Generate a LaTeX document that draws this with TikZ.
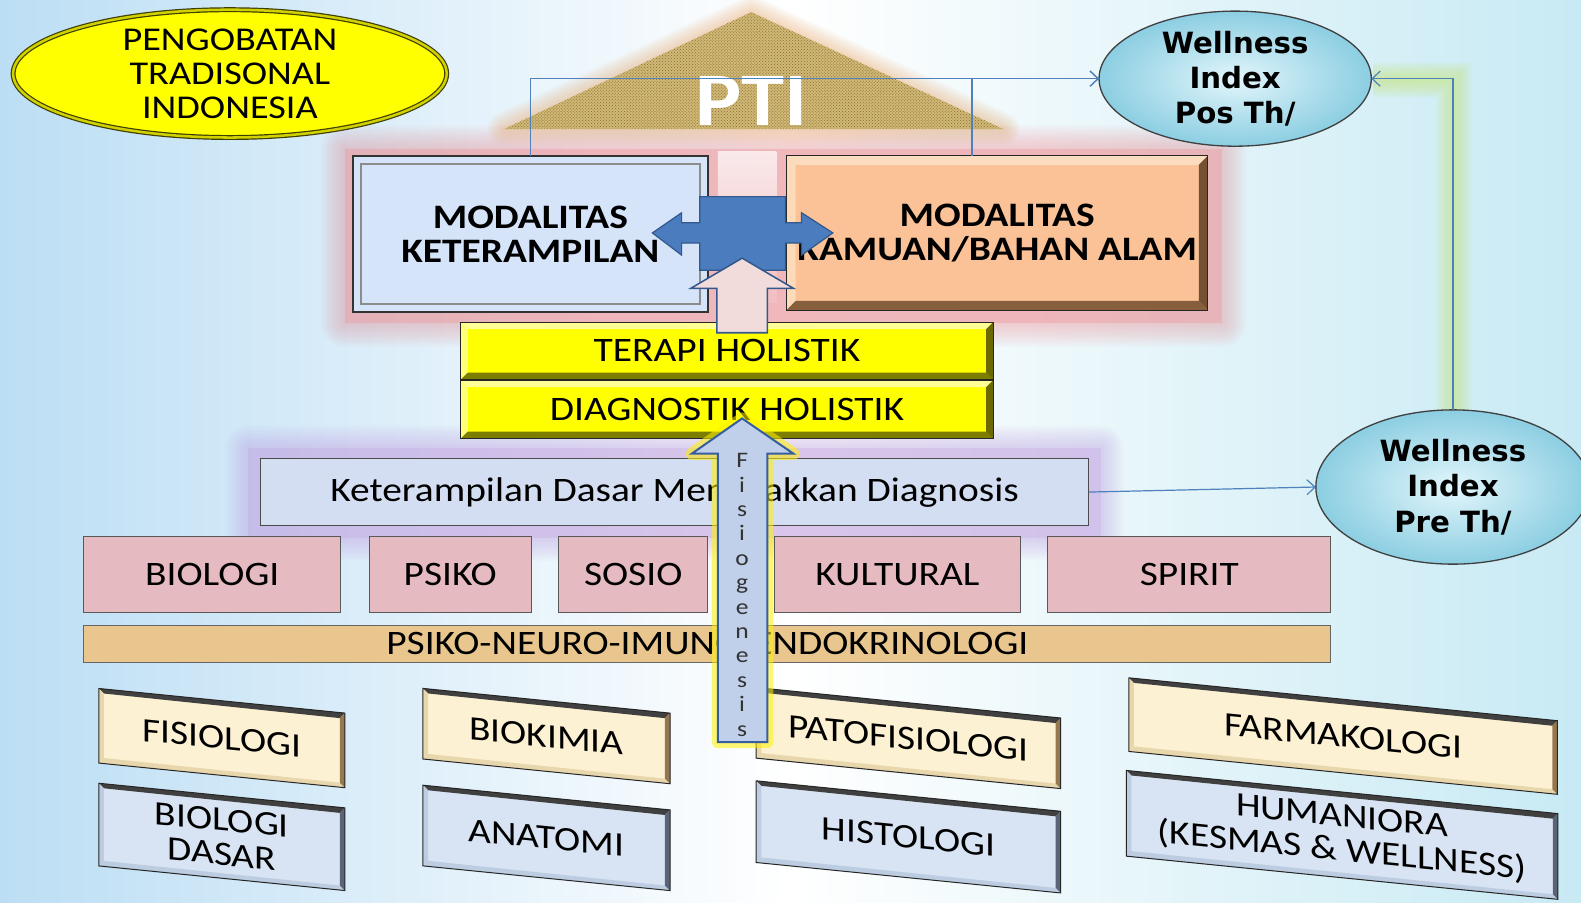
\documentclass[tikz,border=0pt]{standalone}
\usepackage{fontspec}
\setmainfont{Carlito}[FakeStretch=1.15]
\newfontfamily\wellfont{DejaVu Sans}
\usetikzlibrary{arrows.meta,shapes.geometric,patterns}
\definecolor{bgblue}{RGB}{188,222,244}
\definecolor{bgcyan}{RGB}{200,234,244}
\definecolor{connb}{RGB}{79,129,189}
\definecolor{crossb}{RGB}{74,124,190}
\definecolor{crossd}{RGB}{50,88,140}
\definecolor{pinkarr}{RGB}{242,220,219}
\definecolor{fisarr}{RGB}{192,207,234}
\definecolor{fisd}{RGB}{55,95,160}
\definecolor{ylw}{RGB}{255,255,0}
\definecolor{ylwlt}{RGB}{255,255,150}
\definecolor{olivd}{RGB}{125,125,0}
\definecolor{mkface}{RGB}{214,228,250}
\definecolor{peach}{RGB}{250,194,150}
\definecolor{peachlt}{RGB}{252,220,190}
\definecolor{peachdk}{RGB}{135,95,60}
\definecolor{kdface}{RGB}{212,222,242}
\definecolor{pinkb}{RGB}{229,186,192}
\definecolor{tanb}{RGB}{232,198,142}
\definecolor{cream}{RGB}{252,241,210}
\definecolor{creamdk}{RGB}{150,120,80}
\definecolor{creamlt}{RGB}{232,214,172}
\definecolor{lbface}{RGB}{216,228,243}
\definecolor{lbdk}{RGB}{90,100,120}
\definecolor{lblt}{RGB}{188,204,225}
\definecolor{roofc}{RGB}{208,184,118}
\definecolor{roofd}{RGB}{135,105,45}
\definecolor{wellin}{RGB}{226,246,251}
\definecolor{wellout}{RGB}{140,206,226}
\definecolor{glowpink}{RGB}{238,150,155}
\definecolor{glowpur}{RGB}{195,160,225}
\definecolor{glowgrn}{RGB}{195,232,100}
\definecolor{gloworg}{RGB}{232,165,100}
\newcommand\fsz[2]{\fontsize{#1}{#2}\selectfont}
\newcommand\bevelit[6]{%
  \fill[#2] (#1.north west) -- (#1.north east) -- ([xshift=-#6,yshift=-#6]#1.north east) -- ([xshift=#6,yshift=-#6]#1.north west) -- cycle;
  \fill[#3] (#1.north west) -- ([xshift=#6,yshift=-#6]#1.north west) -- ([xshift=#6,yshift=#6]#1.south west) -- (#1.south west) -- cycle;
  \fill[#4] (#1.south west) -- ([xshift=#6,yshift=#6]#1.south west) -- ([xshift=-#6,yshift=#6]#1.south east) -- (#1.south east) -- cycle;
  \fill[#5] (#1.south east) -- ([xshift=-#6,yshift=#6]#1.south east) -- ([xshift=-#6,yshift=-#6]#1.north east) -- (#1.north east) -- cycle;
  \draw[black!85, line width=1pt] (#1.north west) -- (#1.north east) -- (#1.south east) -- (#1.south west) -- cycle;
}
\begin{document}
\begin{tikzpicture}[x=1pt,y=-1pt,
  every node/.style={inner sep=0pt, outer sep=0pt},
  txt/.style={font=\fsz{34}{34}, align=center},
  conn/.style={draw=connb, line width=1.2pt},
  tipend/.style={-{Straight Barb[length=8pt,width=15pt,line width=1.2pt]}},
  pinkbox/.style={draw=black!65, line width=1pt, fill=pinkb, minimum width=#1, minimum height=75pt, txt},
  ylwbox/.style={fill=ylw, minimum width=528pt, minimum height=#1, txt},
  btop/.style={fill=cream, minimum width=#1, yslant=-0.1, transform shape, txt},
  bbot/.style={fill=lbface, minimum width=#1, yslant=-0.1, transform shape, txt},
  wellel/.style={ellipse, draw=black!75, line width=1.3pt, inner color=wellin, outer color=wellout, font=\wellfont\bfseries\fsz{29}{35}, align=center},
]
\useasboundingbox (0,0) rectangle (1568,895);
% background
\shade[left color=bgblue, right color=bgcyan, middle color=white] (0,0) rectangle (1568,895);

% glows
\foreach \e in {2,4,...,24}
  \fill[glowpink, opacity=0.045, rounded corners=\e] ({342-\e},{148-\e}) rectangle ({1212+\e},{320+\e});
\fill[glowpink, opacity=0.4] (342,148) rectangle (1212,320);
\shade[top color=white, bottom color=glowpink!60, opacity=0.7] (712,150) rectangle (770,300);
\foreach \e in {2,4,...,22}
  \fill[glowpur, opacity=0.045, rounded corners=\e] ({246-\e},{444-\e}) rectangle ({1092+\e},{534+\e});
\fill[glowpur, opacity=0.3] (246,444) rectangle (1092,534);
\foreach \w in {4,8,...,36}
  \draw[glowgrn, opacity=0.07, line width=\w pt] (1442,420) -- (1442,79) -- (1362,79);

% roof
\foreach \w in {4,8,...,32}
  \draw[gloworg, opacity=0.06, line width=\w pt, line join=round] (500,128) -- (745,12) -- (995,128) -- cycle;
\fill[roofc] (500,128) -- (745,12) -- (995,128) -- cycle;
\fill[pattern=crosshatch dots, pattern color=roofd] (500,128) -- (745,12) -- (995,128) -- cycle;
\node[font=\bfseries\fsz{75}{75}, text=white] (pti) at (745,100) {PTI};

% title ellipse
\node[ellipse, draw=black!50!olivd, line width=1.2pt, double=ylw!65!olivd, double distance=2.5pt, fill=ylw, minimum width=430pt, minimum height=120pt, font=\fsz{33}{34}, align=center] (trad) at (228,73) {PENGOBATAN\\TRADISONAL\\INDONESIA};

% wellness ellipses
\node[wellel, minimum width=270pt, minimum height=133pt] (wpos) at (1225,78) {Wellness\\Index\\Pos Th/};
\node[wellel, minimum width=272pt, minimum height=153pt] (wpre) at (1441,483) {Wellness\\Index\\Pre Th/};

% modalitas boxes
\node[draw=black!80, line width=2pt, fill=mkface, minimum width=352pt, minimum height=155pt, font=\bfseries\fsz{34}{34}, align=center] (mk) at (526,232) {MODALITAS\\KETERAMPILAN};
\draw[black!45, line width=1.6pt] ([xshift=8pt,yshift=-8pt]mk.north west) rectangle ([xshift=-8pt,yshift=8pt]mk.south east);
\node[fill=peach, minimum width=418pt, minimum height=153pt, font=\bfseries\fsz{34}{34}, align=center] (ma) at (989,231) {MODALITAS\\KAMUAN/BAHAN ALAM};
\bevelit{ma}{peachlt}{peachlt!90!peach}{peachdk}{peachdk!85!black}{9pt}

% holistik boxes
\node[ylwbox=57pt] (ter) at (721,348) {TERAPI HOLISTIK};
\bevelit{ter}{ylwlt}{ylwlt!80!ylw}{olivd}{olivd!85!black}{7pt}
\node[ylwbox=58pt] (dia) at (721,406) {DIAGNOSTIK HOLISTIK};
\bevelit{dia}{ylwlt}{ylwlt!80!ylw}{olivd}{olivd!85!black}{7pt}

% keterampilan dasar
\node[draw=black!70, line width=1pt, fill=kdface, minimum width=822pt, minimum height=67pt, txt] (kd) at (669,488) {Keterampilan Dasar Menegakkan Diagnosis};

% row of pink boxes
\node[pinkbox=255pt] (bio) at (210.5,570) {BIOLOGI};
\node[pinkbox=161pt] (psi) at (446.5,570) {PSIKO};
\node[pinkbox=148pt] (sos) at (628,570) {SOSIO};
\node[pinkbox=244pt] (kul) at (890,570) {KULTURAL};
\node[pinkbox=281pt] (spi) at (1179.5,570) {SPIRIT};

\node[draw=black!60, line width=1pt, fill=tanb, minimum width=1237pt, minimum height=37pt, txt] (pnie) at (701.5,638.5) {PSIKO-NEURO-IMUNO-ENDOKRINOLOGI};

% bottom slanted boxes
\node[btop=244pt, minimum height=74pt] (fisl) at (220,732) {FISIOLOGI};
\bevelit{fisl}{black!75}{creamlt}{creamlt}{creamdk}{5pt}
\node[bbot=244pt, minimum height=82pt] (biod) at (220,830) {BIOLOGI\\DASAR};
\bevelit{biod}{black!75}{lblt}{lblt}{lbdk}{5pt}
\node[btop=245pt, minimum height=70pt] (biok) at (542,730) {BIOKIMIA};
\bevelit{biok}{black!75}{creamlt}{creamlt}{creamdk}{5pt}
\node[bbot=245pt, minimum height=80pt] (anat) at (542,831) {ANATOMI};
\bevelit{anat}{black!75}{lblt}{lblt}{lbdk}{5pt}
\node[btop=302pt, minimum height=70pt] (pato) at (901,732) {PATOFISIOLOGI};
\bevelit{pato}{black!75}{creamlt}{creamlt}{creamdk}{5pt}
\node[bbot=302pt, minimum height=81pt] (hist) at (901,830) {HISTOLOGI};
\bevelit{hist}{black!75}{lblt}{lblt}{lbdk}{5pt}
\node[btop=425pt, minimum height=73pt] (farm) at (1332,730) {FARMAKOLOGI};
\bevelit{farm}{black!75}{creamlt}{creamlt}{creamdk}{5pt}
\node[bbot=428pt, minimum height=85pt] (hum) at (1331,828) {HUMANIORA\\(KESMAS \& WELLNESS)};
\bevelit{hum}{black!75}{lblt}{lblt}{lbdk}{5pt}

% connectors
\draw[conn, tipend] (mk.north) |- (wpos.west);
\draw[conn, tipend] ([xshift=-25pt]ma.north) |- (wpos.west);
\draw[conn, tipend] (kd.east) -- (wpre.west);
\draw[conn, tipend] (wpre.north) |- (wpos.east);

% cross arrow
\fill[crossb, draw=crossd, line width=1.2pt, line join=miter]
  (647,231) -- (676,211) -- (676,221) -- (694,221) -- (694,195) -- (779,195) -- (779,221) -- (795,221) -- (795,211) -- (826,231) -- (795,253) -- (795,241) -- (779,241) -- (779,268) -- (694,268) -- (694,241) -- (676,241) -- (676,253) -- cycle;
% pink up arrow
\filldraw[fill=pinkarr, draw=crossd, line width=1.5pt]
  (736,256) -- (787,286) -- (761,286) -- (761,330) -- (711,330) -- (711,286) -- (685,286) -- cycle;

% fisiogenesis arrow
\draw[yellow, opacity=0.55, line width=12pt, line join=round]
  (736,415) -- (787,450) -- (761,450) -- (761,736) -- (712,736) -- (712,450) -- (686,450) -- cycle;
\filldraw[fill=fisarr, draw=fisd, line width=2pt]
  (736,415) -- (787,450) -- (761,450) -- (761,736) -- (712,736) -- (712,450) -- (686,450) -- cycle;
\node[font=\fsz{22}{24.2}, align=center, text=black!80] (fisio) at (736,590) {F\\i\\s\\i\\o\\g\\e\\n\\e\\s\\i\\s};
\end{tikzpicture}
\end{document}
